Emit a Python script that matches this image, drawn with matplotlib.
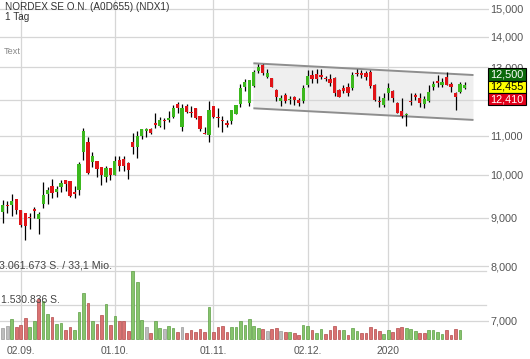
"""
NORDEX daily candles with trend channel and volume bars underneath.
Log price axis on the right, volume squeezed into the bottom strip.
"""
import matplotlib
matplotlib.use('Agg')
import matplotlib.pyplot as plt
import matplotlib.transforms as mtransforms
from matplotlib.patches import Rectangle, Polygon
from matplotlib.ticker import FixedLocator, FuncFormatter, NullLocator

plt.rcParams['font.family'] = ['Liberation Sans', 'DejaVu Sans']

TITLE = 'NORDEX SE O.N. (A0D655) (NDX1)'
PERIOD = '1 Tag'

# daily OHLC, 27.08.2019 .. 27.01.2020 (trading days)
OPEN = [9138, 9289, 9289, 9426, 9176, 9116, 9020, 9199, 8977, 9312,
        9541, 9729, 9588, 9706, 9873, 9849, 9565, 9635, 10571, 10840,
        10324, 10342, 10199, 9952, 10166, 9994, 10367, 10385, 10299, 10840,
        10693, 10992, 11134, 11180, 11320, 11263, 11425, 11428, 11513, 11892,
        11244, 11825, 11650, 11777, 11541, 11070, 11019, 11825, 11510, 11425,
        11320, 11400, 11597, 11883, 12378, 11912, 12417, 12890, 13070, 12702,
        12652, 12296, 11971, 12147, 12015, 12079, 12000, 11971, 12447, 12755,
        12786, 12730, 12658, 12631, 12652, 12296, 12356, 12396, 12356, 12808,
        12792, 12807, 12848, 12447, 11962, 11854, 12196, 12266, 11921, 11683,
        11583, 11957, 12123, 12068, 11883, 11971, 12396, 12569, 12447, 12683,
        12478, 12215, 12236, 12365]
HIGH = [9403, 9380, 9541, 9430, 9180, 9120, 9116, 9250, 9139, 9825,
        9713, 9897, 9729, 9873, 9880, 9855, 9729, 10309, 11209, 10965,
        10580, 10345, 10200, 10216, 10170, 10468, 10468, 10468, 10324, 11080,
        11134, 11185, 11216, 11216, 11634, 11503, 11476, 11683, 11854, 11951,
        11874, 11874, 11825, 11780, 11545, 11244, 11971, 11830, 11777, 11541,
        11428, 11715, 11860, 12478, 12631, 12600, 12911, 13102, 13102, 12933,
        12662, 12317, 12147, 12215, 12117, 12117, 12049, 12447, 12911, 12911,
        12933, 12933, 12724, 12786, 12702, 12317, 12447, 12499, 12848, 12942,
        12911, 12880, 12911, 12478, 12107, 12215, 12518, 12296, 11942, 12049,
        11626, 12196, 12215, 12215, 12117, 12447, 12569, 12755, 12652, 12858,
        12530, 12245, 12548, 12539]
LOW = [8884, 9116, 9043, 9087, 8810, 8529, 8754, 8992, 8655, 9214,
       9312, 9442, 9465, 9595, 9619, 9479, 9442, 9518, 10367, 10019,
       10184, 9952, 9753, 9832, 9873, 9990, 10100, 10100, 9897, 10520,
       10426, 10912, 10973, 11045, 11199, 11236, 11180, 11365, 11484, 11634,
       11134, 11617, 11522, 11448, 11134, 11045, 10840, 11493, 11244, 11106,
       11226, 11317, 11590, 11805, 12266, 11825, 12387, 12807, 12755, 12652,
       12378, 11980, 11825, 11903, 11883, 11854, 11825, 11903, 12396, 12499,
       12499, 12622, 12578, 12417, 12117, 12079, 12196, 12117, 12296, 12724,
       12662, 12600, 12356, 11971, 11788, 11788, 12000, 11942, 11617, 11476,
       11263, 11854, 12000, 11805, 11760, 11951, 12296, 12396, 12396, 12447,
       12245, 11711, 12215, 12326]
CLOSE = [9289, 9278, 9380, 9176, 8847, 8832, 9010, 9154, 9087, 9518,
         9635, 9558, 9659, 9801, 9784, 9502, 9555, 10266, 11126, 10036,
         10476, 10134, 9994, 10174, 9994, 10342, 10224, 10224, 10117, 10693,
         10992, 11180, 11172, 11072, 11310, 11428, 11415, 11484, 11760, 11777,
         11768, 11663, 11640, 11493, 11180, 11060, 11711, 11503, 11500, 11415,
         11310, 11711, 11854, 12347, 12530, 12585, 12858, 13016, 12827, 12827,
         12396, 12079, 12068, 11971, 12025, 12000, 11921, 12365, 12724, 12631,
         12631, 12718, 12646, 12517, 12215, 12097, 12266, 12196, 12755, 12795,
         12780, 12702, 12417, 12000, 11950, 12049, 12347, 12068, 11626, 11541,
         11595, 11945, 12111, 11921, 12020, 12245, 12478, 12499, 12548, 12447,
         12396, 12097, 12478, 12455]

# volume in thousand shares (last day has no volume bar yet)
VOLUME_K = [510, 570, 890, 550, 620, 930, 530, 800, 1790, 1720,
            1110, 980, 680, 710, 420, 550, 410, 1200, 2080, 1610,
            820, 680, 1070, 1560, 640, 1040, 800, 810, 350, 3061.673,
            2570, 860, 540, 280, 810, 500, 460, 600, 510, 320,
            550, 260, 390, 330, 450, 300, 1430, 320, 540, 590,
            330, 530, 530, 810, 620, 900, 570, 480, 440, 360,
            460, 500, 360, 320, 320, 260, 190, 630, 600, 410,
            260, 450, 210, 410, 570, 390, 390, 190, 480, 350,
            270, 270, 530, 450, 360, 240, 420, 330, 480, 530,
            500, 440, 350, 260, 260, 390, 390, 330, 230, 410,
            180, 450, 390]
# g = up vs previous close, r = down, n = unchanged
VOLUME_DIR = ('nngrrrggrg' 'grggrrgggr' 'grrgrgrrrg' 'ggnrggnggr' 'nrrrrrgrrr'
              'rgggggggrn' 'rrnrgrrggr' 'ggrrrrgrgg' 'rrrrrggrrr' 'gggrrggggr'
              'rrg')
VOL_MAX_LABEL = '3.061.673 S. / 33,1 Mio.'
VOL_HALF_LABEL = '1.530.836 S.'

XTICK_POS = [4, 25, 47, 68, 86]
XTICK_LABELS = ['02.09.', '01.10.', '01.11.', '02.12.', '2020']
PRICE_TICKS = [7000, 8000, 9000, 10000, 11000, 12000, 13000, 14000, 15000]
HIDDEN_TICK = 12000   # sits behind the quote boxes

# trend channel (x in bar index)
CHANNEL_X = [55.9, 105.0]
CHANNEL_TOP = [13125, 12754]
CHANNEL_BOTTOM = [11760, 11431]

QUOTE_LABELS = ['12,500', '12,455', '12,410']
QUOTE_FACES = ['#0b6a0b', '#ffff00', '#e2001a']
QUOTE_TEXT = ['white', 'black', 'white']

UP = '#3cb81e'
DOWN = '#e01418'
GRID = '#d6d6d6'
VOL_COLORS = {'g': ('#86c46c', '#5d9e44'),
              'r': ('#d97272', '#b44a4a'),
              'n': ('#bdbdbd', '#9a9a9a')}

W, H = 530, 359
fig = plt.figure(figsize=(W / 100, H / 100), dpi=100)
rect = [0, 19 / H, 489 / W, 340 / H]
ax = fig.add_axes(rect)
ax.set_yscale('log')
ax.set_ylim(6683, 15315)
ax.set_xlim(-0.62, 108.46)
for s in ax.spines.values():
    s.set_visible(False)

# grid
for x in XTICK_POS:
    ax.axvline(x, color=GRID, lw=0.9, zorder=0.8)
for y in PRICE_TICKS:
    ax.axhline(y, color=GRID, lw=0.9, zorder=0.8)

# channel
ax.add_patch(Polygon([(CHANNEL_X[0], CHANNEL_TOP[0]), (CHANNEL_X[1], CHANNEL_TOP[1]),
                      (CHANNEL_X[1], CHANNEL_BOTTOM[1]), (CHANNEL_X[0], CHANNEL_BOTTOM[0])],
                     closed=True, facecolor='#efefef', edgecolor='none', zorder=0.5))
ax.plot(CHANNEL_X, CHANNEL_TOP, color='#8e8e8e', lw=1.4, zorder=1.5,
        solid_capstyle='butt')
ax.plot(CHANNEL_X, CHANNEL_BOTTOM, color='#8e8e8e', lw=1.4, zorder=1.5,
        solid_capstyle='butt')

# candles
for i, (o, h, l, c) in enumerate(zip(OPEN, HIGH, LOW, CLOSE)):
    ax.vlines(i, l, h, color='black', lw=0.9, zorder=2)
    lo, hi = min(o, c), max(o, c)
    if hi / lo < 1.0035:  # keep dojis visible
        mid = (hi * lo) ** 0.5
        lo, hi = mid / 1.00175, mid * 1.00175
    ax.add_patch(Rectangle((i - 0.36, lo), 0.72, hi - lo,
                           facecolor=UP if c >= o else DOWN,
                           edgecolor='none', zorder=3))

ax.yaxis.tick_right()
ax.yaxis.set_major_locator(FixedLocator(PRICE_TICKS))
ax.yaxis.set_minor_locator(NullLocator())
ax.yaxis.set_major_formatter(
    FuncFormatter(lambda v, p: '' if v == HIDDEN_TICK else f'{v:,.0f}'))
ax.tick_params(axis='y', length=0, pad=1, labelsize=7.8, labelcolor='#555555')
ax.set_xticks(XTICK_POS, XTICK_LABELS)
ax.tick_params(axis='x', length=0, pad=4, labelsize=7.4, labelcolor='#555555')

# volume strip
vol = [v * 1000 for v in VOLUME_K]
vol_max = max(vol)
ax2 = fig.add_axes(rect, sharex=ax)
ax2.patch.set_visible(False)
ax2.axis('off')
ax2.set_ylim(-vol_max / 68, vol_max / 68 * 339)
for y in [vol_max, vol_max / 2]:
    ax2.axhline(y, xmax=485.7 / 489, color=GRID, lw=0.9, zorder=0.8)
ax2.bar(range(len(vol)), vol, width=0.6,
        color=[VOL_COLORS[d][0] for d in VOLUME_DIR],
        edgecolor=[VOL_COLORS[d][1] for d in VOLUME_DIR], lw=0.5, zorder=2)
blend = mtransforms.blended_transform_factory(ax2.transAxes, ax2.transData)
ax2.annotate(VOL_MAX_LABEL, xy=(0, vol_max), xycoords=blend, xytext=(-0.5, 4.3),
             textcoords='offset points', va='center', ha='left',
             fontsize=7.7, color='#444444')
ax2.annotate(VOL_HALF_LABEL, xy=(0, vol_max / 2), xycoords=blend, xytext=(0.7, 3.6),
             textcoords='offset points', va='center', ha='left',
             fontsize=7.5, color='#444444')

# header texts
fig.text(5 / W, 1 - 7 / H, TITLE, fontsize=7.2, color='#333333', va='center')
fig.text(5 / W, 1 - 16.5 / H, PERIOD, fontsize=7.2, color='#333333', va='center')
fig.text(4 / W, 1 - 52 / H, 'Text', fontsize=6.6, color='#888888', va='center')

# last quote boxes
for k, (lab, face, tc) in enumerate(zip(QUOTE_LABELS, QUOTE_FACES, QUOTE_TEXT)):
    top = 68.3 + k * 12.2
    fig.add_artist(Rectangle((487.7 / W, 1 - (top + 12.2) / H), 38.3 / W, 12.2 / H,
                             transform=fig.transFigure, facecolor=face,
                             edgecolor='black', lw=0.8))
    fig.text(506.8 / W, 1 - (top + 6.3) / H, lab, ha='center', va='center',
             fontsize=7.8, color=tc)

fig.savefig('out.png', dpi=100)
